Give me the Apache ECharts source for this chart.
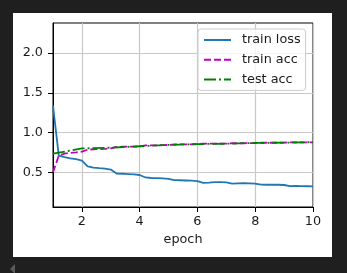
<!DOCTYPE html>
<html>
<head>
<meta charset="utf-8">
<script src="https://cdn.jsdelivr.net/npm/echarts@6/dist/echarts.min.js"></script>
<style>
html,body{margin:0;padding:0;background:#1f1f1f;}
#c{width:347px;height:273px;}
</style>
</head>
<body>
<div id="c"></div>
<script>
// ---- data ----
var epochsFine = [1.0,1.2,1.4,1.6,1.8,2.0,2.2,2.4,2.6,2.8,3.0,3.2,3.4,3.6,3.8,4.0,4.2,4.4,4.6,4.8,5.0,5.2,5.4,5.6,5.8,6.0,6.2,6.4,6.6,6.8,7.0,7.2,7.4,7.6,7.8,8.0,8.2,8.4,8.6,8.8,9.0,9.2,9.4,9.6,9.8,10.0];
var trainLoss = [1.34,0.71,0.69,0.675,0.665,0.648,0.575,0.56,0.553,0.547,0.535,0.485,0.482,0.478,0.474,0.466,0.435,0.428,0.426,0.424,0.418,0.402,0.400,0.397,0.394,0.390,0.368,0.370,0.375,0.376,0.372,0.358,0.360,0.362,0.360,0.357,0.345,0.343,0.344,0.343,0.340,0.325,0.328,0.326,0.324,0.322];
var trainAcc = [0.50,0.71,0.735,0.745,0.752,0.76,0.785,0.79,0.792,0.795,0.80,0.82,0.822,0.823,0.824,0.826,0.838,0.84,0.84,0.842,0.844,0.85,0.851,0.852,0.853,0.855,0.862,0.861,0.86,0.86,0.861,0.866,0.866,0.866,0.867,0.868,0.872,0.872,0.872,0.872,0.873,0.878,0.877,0.877,0.878,0.878];
var epochs = [1,2,3,4,5,6,7,8,9,10];
var testAcc = [0.735,0.80,0.81,0.828,0.845,0.855,0.86,0.87,0.873,0.88];
var xTicks = [2,4,6,8,10];
var yTicks = [0.5,1.0,1.5,2.0];
var seriesNames = ['train loss','train acc','test acc'];

function pairs(xs, ys){ return xs.map(function(x,i){ return [x, ys[i]]; }); }

var chart = echarts.init(document.getElementById('c'), null, {renderer:'canvas'});
var FONT = 'DejaVu Sans';
var txt = '#1a1a1a';
chart.setOption({
  backgroundColor: '#1f1f1f',
  animation: false,
  textStyle: {fontFamily: FONT},
  graphic: [
    {type:'rect', z:-10, shape:{x:13,y:13,width:319,height:244}, style:{fill:'#ffffff'}},
    {type:'polygon', shape:{points:[[15,264],[10,269],[15,274]]}, style:{fill:'#5a5a5a'}}
  ],
  grid: {left:53, top:23, width:260, height:184, show:true, borderColor:'#000', borderWidth:1, backgroundColor:'transparent'},
  legend: {
    show: true,
    data: seriesNames,
    orient: 'vertical',
    left: 198, top: 29,
    padding: [3.5, 5, 3.5, 5],
    itemWidth: 27, itemHeight: 15, itemGap: 4.7,
    itemStyle: {opacity: 0},
    lineStyle: {width: 2},
    backgroundColor: 'rgba(255,255,255,0.8)',
    borderColor: '#cccccc', borderWidth: 1, borderRadius: 3,
    textStyle: {fontFamily: FONT, fontSize: 12.8, color: txt, padding:[0,0,0,6], lineHeight: 15},
    selectedMode: false
  },
  xAxis: {
    type: 'value', min: 1, max: 10,
    name: 'epoch', nameLocation: 'middle', nameGap: 24,
    nameTextStyle: {fontFamily: FONT, fontSize: 12.8, color: txt},
    axisLine: {show:true, onZero:false, lineStyle:{color:'#000', width:1}},
    axisTick: {show:true, length:5, lineStyle:{color:'#000', width:1}, customValues: xTicks},
    axisLabel: {show:true, fontFamily: FONT, fontSize: 12.8, color: txt, margin: 8, customValues: xTicks, formatter: function(v){return String(v);}},
    splitLine: {show:true, lineStyle:{color:'#c8c8c8', width:1.2}}
  },
  yAxis: {
    type: 'value', min: 0.063, max: 2.38,
    axisLine: {show:true, onZero:false, lineStyle:{color:'#000', width:1}},
    axisTick: {show:true, length:5, lineStyle:{color:'#000', width:1}, customValues: yTicks},
    axisLabel: {show:true, fontFamily: FONT, fontSize: 12.8, color: txt, margin: 10, customValues: yTicks, formatter: function(v){return v.toFixed(1);}},
    splitLine: {show:true, lineStyle:{color:'#c8c8c8', width:1.2}}
  },
  series: [
    {name: seriesNames[0], type:'line', data: pairs(epochsFine, trainLoss), showSymbol:false, symbol:'none', clip:true,
     lineStyle:{color:'#1f77b4', width:1.8}, itemStyle:{color:'#1f77b4'}},
    {name: seriesNames[1], type:'line', data: pairs(epochsFine, trainAcc), showSymbol:false, symbol:'none', clip:true,
     lineStyle:{color:'#bf00bf', width:1.8, type:[7,3]}, itemStyle:{color:'#bf00bf'}},
    {name: seriesNames[2], type:'line', data: pairs(epochs, testAcc), showSymbol:false, symbol:'none', clip:true,
     lineStyle:{color:'#008000', width:1.8, type:[12,3,2,3]}, itemStyle:{color:'#008000'}}
  ]
});
</script>
</body>
</html>
